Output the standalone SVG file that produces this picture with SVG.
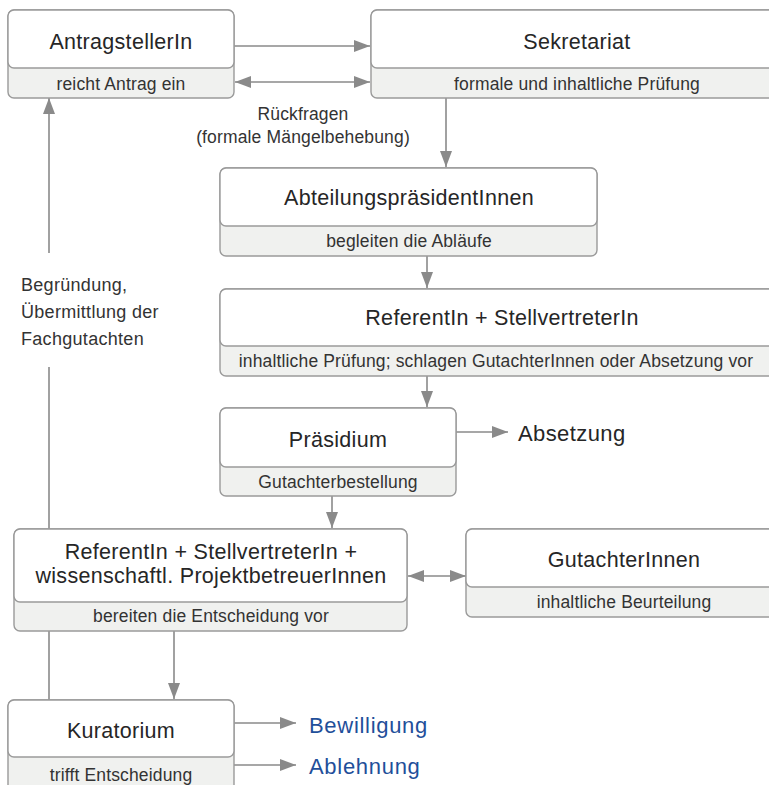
<svg xmlns="http://www.w3.org/2000/svg" width="769" height="785" viewBox="0 0 769 785">
<style>
  .outer { fill: #f0f1ef; stroke: #9a9a9a; stroke-width: 1.4; }
  .inner { fill: #ffffff; stroke: #9a9a9a; stroke-width: 1.4; }
  .title { font-family: "Liberation Sans", Arial, sans-serif; font-size: 21.5px; letter-spacing: 0.3px; fill: #262626; text-anchor: middle; }
  .sub { font-family: "Liberation Sans", Arial, sans-serif; font-size: 17.5px; letter-spacing: 0.15px; fill: #333333; text-anchor: middle; }
  .note { font-family: "Liberation Sans", Arial, sans-serif; font-size: 18px; letter-spacing: 0.3px; fill: #333333; }
  .out { font-family: "Liberation Sans", Arial, sans-serif; font-size: 22px; letter-spacing: 0.4px; fill: #262626; }
  .blue { fill: #1f4f9a; letter-spacing: 0.7px; }
  .conn { fill: none; stroke: #8a8a8a; stroke-width: 1.6; }
</style>
<defs>
  <marker id="ah" markerUnits="userSpaceOnUse" markerWidth="16" markerHeight="12" refX="16" refY="6" orient="auto-start-reverse">
    <path d="M0,0 L16,6 L0,12 z" fill="#8a8a8a"/>
  </marker>
</defs>

<g id="connectors">
  <path class="conn" d="M234,46 H370" marker-end="url(#ah)"/>
  <path class="conn" d="M235,82 H370" marker-start="url(#ah)" marker-end="url(#ah)"/>
  <path class="conn" d="M446,98 V167" marker-end="url(#ah)"/>
  <path class="conn" d="M427,256 V288" marker-end="url(#ah)"/>
  <path class="conn" d="M427,376 V407" marker-end="url(#ah)"/>
  <path class="conn" d="M456,432 H508" marker-end="url(#ah)"/>
  <path class="conn" d="M332,496 V528" marker-end="url(#ah)"/>
  <path class="conn" d="M408,576 H466" marker-start="url(#ah)" marker-end="url(#ah)"/>
  <path class="conn" d="M174,631 V699" marker-end="url(#ah)"/>
  <path class="conn" d="M234,723 H296" marker-end="url(#ah)"/>
  <path class="conn" d="M234,765 H296" marker-end="url(#ah)"/>
  <path class="conn" d="M49,700 V631"/>
  <path class="conn" d="M49,529 V367"/>
  <path class="conn" d="M49,253 V98" marker-end="url(#ah)"/>
</g>

<g id="antragsteller">
  <rect class="outer" x="8" y="10" width="226" height="88" rx="6"/>
  <rect class="inner" x="8" y="10" width="226" height="58" rx="6"/>
  <text class="title" x="121" y="49">AntragstellerIn</text>
  <text class="sub" x="121" y="90">reicht Antrag ein</text>
</g>

<g id="sekretariat">
  <rect class="outer" x="371" y="10" width="412" height="88" rx="6"/>
  <rect class="inner" x="371" y="10" width="412" height="58" rx="6"/>
  <text class="title" x="577" y="49">Sekretariat</text>
  <text class="sub" x="577" y="90">formale und inhaltliche Prüfung</text>
</g>

<g id="rueckfragen">
  <text class="sub" x="303" y="120">Rückfragen</text>
  <text class="sub" x="303" y="143">(formale Mängelbehebung)</text>
</g>

<g id="abteilung">
  <rect class="outer" x="220" y="168" width="377" height="88" rx="6"/>
  <rect class="inner" x="220" y="168" width="377" height="58" rx="6"/>
  <text class="title" x="409" y="205">AbteilungspräsidentInnen</text>
  <text class="sub" x="409" y="247">begleiten die Abläufe</text>
</g>

<g id="referent1">
  <rect class="outer" x="220" y="289" width="565" height="87" rx="6"/>
  <rect class="inner" x="220" y="289" width="565" height="57" rx="6"/>
  <text class="title" x="502" y="325">ReferentIn + StellvertreterIn</text>
  <text class="sub" x="496" y="367">inhaltliche Prüfung; schlagen GutachterInnen oder Absetzung vor</text>
</g>

<g id="praesidium">
  <rect class="outer" x="220" y="408" width="236" height="88" rx="6"/>
  <rect class="inner" x="220" y="408" width="236" height="59" rx="6"/>
  <text class="title" x="338" y="447">Präsidium</text>
  <text class="sub" x="338" y="488">Gutachterbestellung</text>
</g>

<g id="absetzung">
  <text class="out" x="518" y="441">Absetzung</text>
</g>

<g id="feedback-label">
  <text class="note" x="21" y="291">Begründung,</text>
  <text class="note" x="21" y="318">Übermittlung der</text>
  <text class="note" x="21" y="345">Fachgutachten</text>
</g>

<g id="referent2">
  <rect class="outer" x="14" y="529" width="393" height="102" rx="6"/>
  <rect class="inner" x="14" y="529" width="393" height="73" rx="6"/>
  <text class="title" x="211" y="559">ReferentIn + StellvertreterIn +</text>
  <text class="title" x="211" y="583">wissenschaftl. ProjektbetreuerInnen</text>
  <text class="sub" x="211" y="622">bereiten die Entscheidung vor</text>
</g>

<g id="gutachter">
  <rect class="outer" x="466" y="529" width="316" height="88" rx="6"/>
  <rect class="inner" x="466" y="529" width="316" height="58" rx="6"/>
  <text class="title" x="624" y="567">GutachterInnen</text>
  <text class="sub" x="624" y="608">inhaltliche Beurteilung</text>
</g>

<g id="kuratorium">
  <rect class="outer" x="8" y="700" width="226" height="100" rx="6"/>
  <rect class="inner" x="8" y="700" width="226" height="57" rx="6"/>
  <text class="title" x="121" y="738">Kuratorium</text>
  <text class="sub" x="121" y="781">trifft Entscheidung</text>
</g>

<g id="bewilligung">
  <text class="out blue" x="309" y="733">Bewilligung</text>
</g>
<g id="ablehnung">
  <text class="out blue" x="309" y="774">Ablehnung</text>
</g>
</svg>
